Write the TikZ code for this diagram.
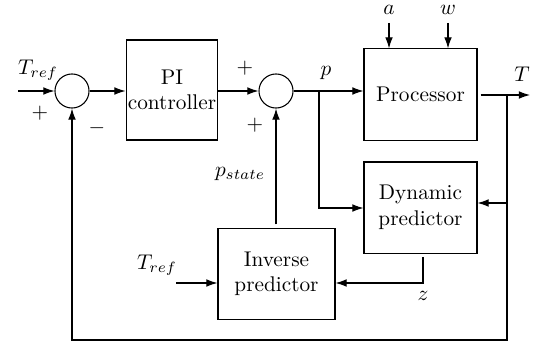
\documentclass[tikz,border=0pt]{standalone}
\usetikzlibrary{arrows.meta}
\begin{document}
\begin{tikzpicture}[x=0.47pt,y=-0.47pt,
  every path/.style={line width=0.5pt},
  arr/.style={-{Latex[length=5.2pt,width=3.6pt]}},
  blk/.style={draw,align=center,inner sep=0pt},
  sumc/.style={draw,circle,minimum size=16pt,inner sep=0pt},
  lbl/.style={inner sep=0pt}]
\useasboundingbox (0,0) rectangle (540,347);
% blocks
\node[sumc] (s1) at (72,91) {};
\node[sumc] (s2) at (276,91) {};
\node[blk,minimum width=43.2pt,minimum height=47pt] (pi) at (172,90) {PI\\controller};
\node[blk,minimum width=53.1pt,minimum height=42.8pt] (proc) at (420.5,94.5) {Processor};
\node[blk,minimum width=53.1pt,minimum height=42.8pt] (dyn) at (420.5,207.5) {Dynamic\\predictor};
\node[blk,minimum width=55pt,minimum height=43.2pt] (inv) at (276.5,274) {Inverse\\predictor};
% coordinates
\coordinate (tin) at (18,91);
\coordinate (ain) at (389,23);
\coordinate (win) at (448,23);
\coordinate (pb) at (319,91);
\coordinate (pd) at (319,208);
\coordinate (br) at (507,95);
\coordinate (tout) at (530,95);
\coordinate (dyin) at (507,203);
\coordinate (bot) at (507,340);
\coordinate (bl) at (72,340);
\coordinate (zc) at (423,283);
\coordinate (ti) at (176,283);
% connectors
\draw[arr] (tin) -- (s1.west);
\draw[arr] (s1.east) -- (pi.west |- s1.east);
\draw[arr] (pi.east |- s2.west) -- (s2.west);
\draw[arr] (s2.east) -- (proc.west |- s2.east);
\draw[arr] (ain) -- (proc.north -| ain);
\draw[arr] (win) -- (proc.north -| win);
\draw[arr,shorten <=1.5pt] (proc.east |- tout) -- (tout);
\draw[arr] (pb) -- (pd) -- (pd -| dyn.west);
\draw[arr] (dyin) -- (dyin -| dyn.east);
\draw[arr] (br) -- (bot) -- (bl) -- (s1.south);
\draw[arr,shorten <=1.5pt] (inv.north -| s2.south) -- (s2.south);
\draw[arr,shorten <=1.5pt] (dyn.south -| zc) -- (zc) -- (zc -| inv.east);
\draw[arr] (ti) -- (ti -| inv.west);
% labels
\node[lbl] (l1) at (38,70) {$T_{ref}$};
\node[lbl] (l2) at (40,113) {$+$};
\node[lbl] (l3) at (97,128) {$-$};
\node[lbl] (l4) at (245,68) {$+$};
\node[lbl] (l5) at (255,125) {$+$};
\node[lbl] (l6) at (326,73) {$p$};
\node[lbl] (l7) at (522,74) {$T$};
\node[lbl] (l8) at (389,10) {$a$};
\node[lbl] (l9) at (448,10) {$w$};
\node[lbl] (l10) at (240,174) {$p_{state}$};
\node[lbl] (l11) at (423,296) {$z$};
\node[lbl] (l12) at (157,265) {$T_{ref}$};
\end{tikzpicture}
\end{document}
